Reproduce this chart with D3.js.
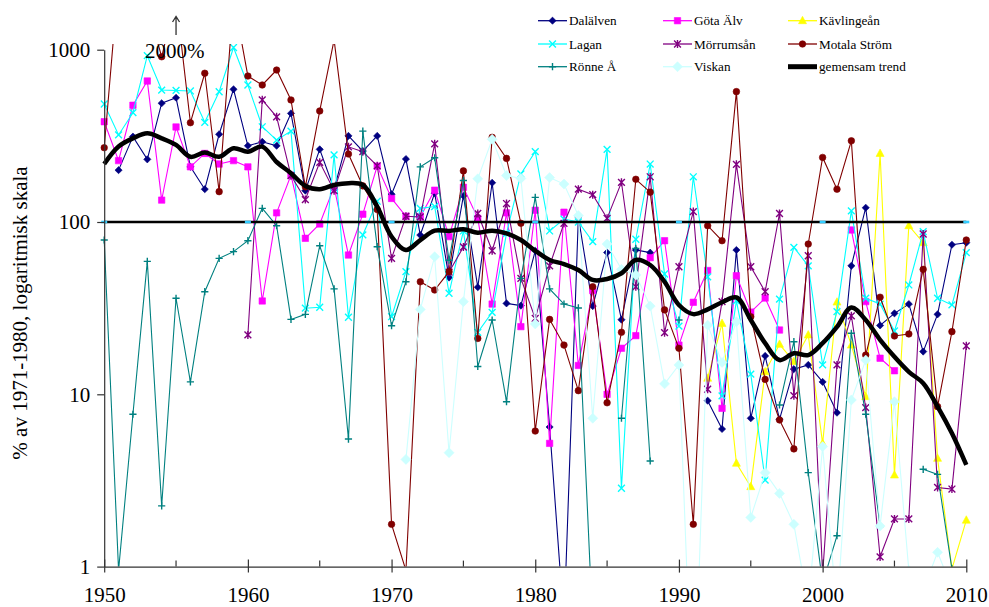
<!DOCTYPE html>
<html>
<head>
<meta charset="utf-8">
<script src="https://cdn.jsdelivr.net/npm/d3@7"></script>
<style>
  body { margin: 0; background: #fff; }
  svg { display: block; font-family: "Liberation Serif", "Times New Roman", serif; }
</style>
</head>
<body>
<svg id="chart" width="989" height="607"></svg>
<script>
// Years on the x axis
const years = d3.range(1950, 2011);

// Yearly values, % of the 1971-1980 mean (null = no value)
const dalalven = [
  null, 200, 313, 231, 489, 526, 209, 155, 323, 589,
  277, 292, 277, 427, 152, 264, 155, 316, 258, 316,
  145, 232, 84, 147, 47.6, 142, 41.8, 169, 33.7, 32.7,
  68.1, 6.46, 0.47, 107, 32.5, 66.5, 27.1, 68.8, 66.4, null,
  null, null, 9.18, 6.29, 68.8, 7.26, 16.7, 7.16, 14.0, 14.8,
  11.8, 7.82, 55.7, 121, 25.1, 29.5, 33.4, 17.7, 29.1, 73.8,
  75.8
];
const gotaAlv = [
  382, 227, 476, 658, 134, 356, 209, 250, 217, 227,
  209, 34.8, 113, 187, 80.4, 97.4, 160, 64.3, 111, 211,
  137, 108, 107, 153, 82.2, 159, 105, 33.4, 113, 24.7,
  117, 5.19, 114, 14.7, 40, 10, 18.5, 21.9, 62.1, 77.9,
  19.3, 34.2, 52.3, 8.29, 48.8, 30, 36.2, 23.6, null, null,
  null, null, 89.9, 34.5, 16.2, 13.7, null, null, null, null,
  null
];
const kavlingean = [
  null, null, null, null, null, null, null, null, null, null,
  null, null, null, null, null, null, null, null, null, null,
  null, null, null, null, null, null, null, null, null, null,
  null, null, null, null, null, null, null, null, null, null,
  null, null, 12.4, 25.8, 3.98, 2.91, 13.5, 19.5, 15.5, 22.1,
  5.19, 34.3, 19.3, 9.69, 250, 3.40, 95.2, 75.8, 4.25, 0.97,
  1.86
];
const lagan = [
  484, 320, 431, 923, 583, 580, 576, 379, 570, 1030,
  624, 357, 299, 337, 31.6, 32.0, 245, 28.0, 84.1, 132,
  28.2, 51.5, 120, 123, 38.6, 88.7, 22.9, 29.9, 85.9, 190,
  256, 88.7, 104, 100, 76.9, 264, 2.85, 79.4, 217, 49.9,
  24.9, 183, 48.0, 9.8, 34.9, 13.1, 3.18, 35.7, 71.3, 55.7,
  14.8, 30.2, 116, 36.1, 33.4, 23.3, 43.1, 87.9, 36.1, 33.0,
  66.4
];
const morrumsan = [
  null, null, null, null, null, null, null, null, null, null,
  22.1, 511, 408, 186, 135, 222, 152, 273, 256, 212,
  61.5, 108, 107, 284, 51.2, 71.6, 112, 68.1, 128, 47.1,
  27.6, 55.7, 98.3, 155, 144, 105, 170, 42.1, 183, 22.8,
  55.0, 115, 10.7, 34.5, 216, 55.0, 39.4, 112, 9.82, 63.7,
  0.9, 14.8, 28.5, 8.36, 1.14, 1.89, 1.89, 85.2, 2.88, 2.82,
  19.1
];
const motala = [
  270, 2600, 2400, 1800, 910, 2000, 377, 730, 150, 2000,
  703, 624, 762, 511, 160, 441, 1140, 248, 162, 118,
  1.76, 0.95, 45.0, 40.3, 51.5, 198, 21.1, 310, 234, 98.3,
  6.12, 27.2, 19.3, 10.5, 42.1, 8.93, 22.9, 177, 149, 30.9,
  18.5, 1.76, 95.2, 77.9, 571, 28.2, 12.2, 7.10, 4.82, 74.5,
  237, 155, 296, 16.9, 36.6, 21.8, 22.4, 53.1, 8.48, 23.1,
  78.6
];
const ronne = [
  78.6, 0.95, 7.66, 59.1, 2.25, 36.1, 11.8, 39.4, 61.5, 67.3,
  77.9, 120, 95.2, 27.2, 29.1, 72.8, 40.9, 5.5, 337, 71.9,
  25.0, 45.0, 209, 236, 60, 174, 14.5, 27.0, 9.06, 47.1,
  139, 40.9, 33.4, 31.7, 0.45, null, 7.26, 70.3, 4.10, null,
  27.0, null, null, null, null, null, null, 8.67, 20.2, 3.51,
  0.8, 1.51, 22.6, 7.66, 1.71, null, null, 3.67, 3.43, 0.97,
  null
];
const viskan = [
  null, null, null, null, null, null, null, null, null, null,
  null, null, null, null, null, null, null, null, null, null,
  null, 4.19, 31.1, 62.9, 4.58, 34.5, 178, 302, 186, 179,
  25.6, 181, 166, 109, 7.26, 74.5, 53.1, 49.3, 32.5, 11.5,
  14.8, 0.1, 25.2, 15.3, 26.4, 1.93, 3.51, 2.66, 1.76, 0.6,
  4.97, 0.55, 9.27, 15.8, 1.72, 9.06, 0.95, 0.73, 1.21, 0.75,
  null
];
const trend = [
  217, 274, 306, 327, 306, 280, 239, 253, 239, 268,
  256, 274, 223, 192, 162, 155, 164, 168, 164, 123,
  82.2, 68.8, 78.6, 89.1, 88.7, 90.7, 86.7, 89.1, 85.9, 78.6,
  68.1, 60.2, 57.0, 52.6, 46.1, 46.7, 50.4, 60.2, 56.3, 45.0,
  33.0, 29.2, 31.1, 34.2, 36.5, 27.0, 19.8, 15.8, 17.3, 16.9,
  19.8, 24.6, 31.9, 27.0, 20.7, 16.5, 13.5, 11.6, 8.48, 5.94,
  3.89
];

// Axis ticks and the reference level
const yTicks = [1, 10, 100, 1000];
const xTicks = [1950, 1960, 1970, 1980, 1990, 2000, 2010];
const xMinorTicks = [1955, 1965, 1975, 1985, 1995, 2005];
const refLevel = 100;
const refMarkYears = [1950, 1960, 1970, 1980, 1990, 2000, 2010];

// Series names, drawn in this order
const seriesNames = ["Dalälven", "Göta Älv", "Kävlingeån", "Lagan", "Mörrumsån",
                     "Motala Ström", "Rönne Å", "Viskan"];
const seriesValues = [dalalven, gotaAlv, kavlingean, lagan, morrumsan, motala, ronne, viskan];
const trendName = "gemensam trend";

// Look of each series: colour, marker type, marker size
const seriesStyle = [
  { color: "#000080", marker: "diamond",  size: 3.6 },
  { color: "#FF00FF", marker: "square",   size: 3.2 },
  { color: "#FFFF00", marker: "triangle", size: 4.0 },
  { color: "#00FFFF", marker: "cross",    size: 3.4 },
  { color: "#800080", marker: "star",     size: 3.4 },
  { color: "#800000", marker: "circle",   size: 3.3 },
  { color: "#008080", marker: "plus",     size: 3.6 },
  { color: "#CCFFFF", marker: "diamond",  size: 5.0 }
];

const svg = d3.select("#chart");
const plot = { left: 104.2, right: 966.3, top: 49.7, bottom: 566.6 };

const x = d3.scaleLinear().domain([1950, 2010]).range([plot.left, plot.right]);
const y = d3.scaleLog().domain([1, 1000]).range([plot.bottom, plot.top]);

svg.append("defs").append("clipPath").attr("id", "plotClip")
  .append("rect")
  .attr("x", plot.left - 4).attr("y", 44)
  .attr("width", plot.right - plot.left + 14)
  .attr("height", plot.bottom - 44);

function markerPath(type, s) {
  switch (type) {
    case "diamond":  return `M0,${-s}L${s},0L0,${s}L${-s},0Z`;
    case "square":   return `M${-s},${-s}H${s}V${s}H${-s}Z`;
    case "triangle": return `M0,${-s * 1.1}L${s},${s * 0.75}L${-s},${s * 0.75}Z`;
    case "circle":   return d3.symbol(d3.symbolCircle, Math.PI * s * s)();
    case "cross":    return `M${-s},${-s}L${s},${s}M${-s},${s}L${s},${-s}`;
    case "star":     return `M${-s},${-s}L${s},${s}M${-s},${s}L${s},${-s}M0,${-s * 1.2}V${s * 1.2}`;
    case "plus":     return `M${-s},0H${s}M0,${-s}V${s}`;
  }
}
const strokedMarkers = new Set(["cross", "star", "plus"]);

function drawMarker(sel, style) {
  const p = sel.append("path").attr("d", markerPath(style.marker, style.size));
  if (strokedMarkers.has(style.marker)) {
    p.attr("fill", "none").attr("stroke", style.color).attr("stroke-width", 1.4);
  } else {
    p.attr("fill", style.color).attr("stroke", style.color).attr("stroke-width", 0.6);
  }
  return p;
}

const plotG = svg.append("g").attr("clip-path", "url(#plotClip)");

const line = d3.line()
  .defined(d => d.v != null)
  .x(d => x(d.year))
  .y(d => y(d.v));

seriesValues.forEach((vals, i) => {
  const style = seriesStyle[i];
  const data = years.map((yr, k) => ({ year: yr, v: vals[k] }));
  const g = plotG.append("g");
  g.append("path")
    .datum(data)
    .attr("fill", "none")
    .attr("stroke", style.color)
    .attr("stroke-width", 1.1)
    .attr("d", line);
  data.filter(d => d.v != null).forEach(d => {
    const m = g.append("g").attr("transform", `translate(${x(d.year)},${y(d.v)})`);
    drawMarker(m, style);
  });
});

// Reference level at 100 %
plotG.append("line")
  .attr("x1", x(1950)).attr("x2", x(2010))
  .attr("y1", y(refLevel)).attr("y2", y(refLevel))
  .attr("stroke", "#000").attr("stroke-width", 2.6);
refMarkYears.forEach(yr => {
  plotG.append("rect")
    .attr("x", x(yr) - 3).attr("y", y(refLevel) - 1.3)
    .attr("width", 6).attr("height", 2.6)
    .attr("fill", "#33CCFF");
});

// Common trend, smoothed
const trendData = years.map((yr, k) => ({ year: yr, v: trend[k] }));
plotG.append("path")
  .datum(trendData)
  .attr("fill", "none")
  .attr("stroke", "#000")
  .attr("stroke-width", 4.5)
  .attr("stroke-linejoin", "round")
  .attr("d", d3.line().x(d => x(d.year)).y(d => y(d.v)).curve(d3.curveCatmullRom.alpha(0.5)));

// Y axis
const yAxis = svg.append("g")
  .attr("transform", `translate(${plot.left},0)`)
  .call(d3.axisLeft(y).tickValues(yTicks).tickFormat(d3.format("d")).tickSize(7).tickSizeOuter(0).tickPadding(7));
yAxis.select(".domain").attr("stroke", "#333").attr("stroke-width", 1.2);
yAxis.selectAll(".tick line").attr("stroke", "#333").attr("stroke-width", 1.2);
yAxis.selectAll(".tick text")
  .attr("font-size", 21).attr("fill", "#000")
  .attr("font-family", "'Liberation Serif', 'Times New Roman', serif");

// X axis
const xAxis = svg.append("g")
  .attr("transform", `translate(0,${plot.bottom})`)
  .call(d3.axisBottom(x).tickValues(xTicks).tickFormat(d3.format("d")).tickSize(6).tickSizeOuter(0));
xAxis.select(".domain").attr("stroke", "#333").attr("stroke-width", 1.2);
xAxis.selectAll(".tick line").attr("y1", -7).attr("y2", 6).attr("stroke", "#333").attr("stroke-width", 1.2);
xAxis.selectAll(".tick text")
  .attr("y", 35.5).attr("dy", 0)
  .attr("font-size", 21).attr("fill", "#000")
  .attr("font-family", "'Liberation Serif', 'Times New Roman', serif");
xAxis.selectAll(".minor").data(xMinorTicks).enter().append("line")
  .attr("class", "minor")
  .attr("x1", d => x(d)).attr("x2", d => x(d))
  .attr("y1", -6).attr("y2", 0)
  .attr("stroke", "#333").attr("stroke-width", 1.2);

// Y axis title
svg.append("text")
  .attr("transform", "translate(27,313) rotate(-90)")
  .attr("text-anchor", "middle")
  .attr("font-size", 21)
  .text("% av 1971-1980, logaritmisk skala");

// Note for the value above the top of the scale
const noteX = x(1955);
svg.append("path")
  .attr("d", `M${noteX},35V17M${noteX - 3.5},22L${noteX},16.5L${noteX + 3.5},22`)
  .attr("fill", "none").attr("stroke", "#333").attr("stroke-width", 1.3);
svg.append("text")
  .attr("x", 145).attr("y", 58)
  .attr("font-size", 21)
  .text("2000%");

// Legend, three columns by three rows
const legendCols = [538, 663, 788];
const legendRows = [20.7, 44, 66.7];
const legendItems = seriesNames.map((n, i) => ({ name: n, style: seriesStyle[i] }));
legendItems.push({ name: trendName, style: null });
const legend = svg.append("g");
legendItems.forEach((item, i) => {
  const lx = legendCols[i % 3];
  const ly = legendRows[Math.floor(i / 3)];
  const g = legend.append("g").attr("transform", `translate(${lx},${ly})`);
  if (item.style) {
    g.append("line").attr("x1", 0).attr("x2", 29).attr("y1", 0).attr("y2", 0)
      .attr("stroke", item.style.color).attr("stroke-width", 1.3);
    drawMarker(g.append("g").attr("transform", "translate(14.5,0)"), item.style);
  } else {
    g.append("line").attr("x1", 0).attr("x2", 29).attr("y1", 0).attr("y2", 0)
      .attr("stroke", "#000").attr("stroke-width", 5);
  }
  g.append("text").attr("x", 31).attr("y", 4.5)
    .attr("font-size", 13.2)
    .text(item.name);
});
</script>
</body>
</html>
